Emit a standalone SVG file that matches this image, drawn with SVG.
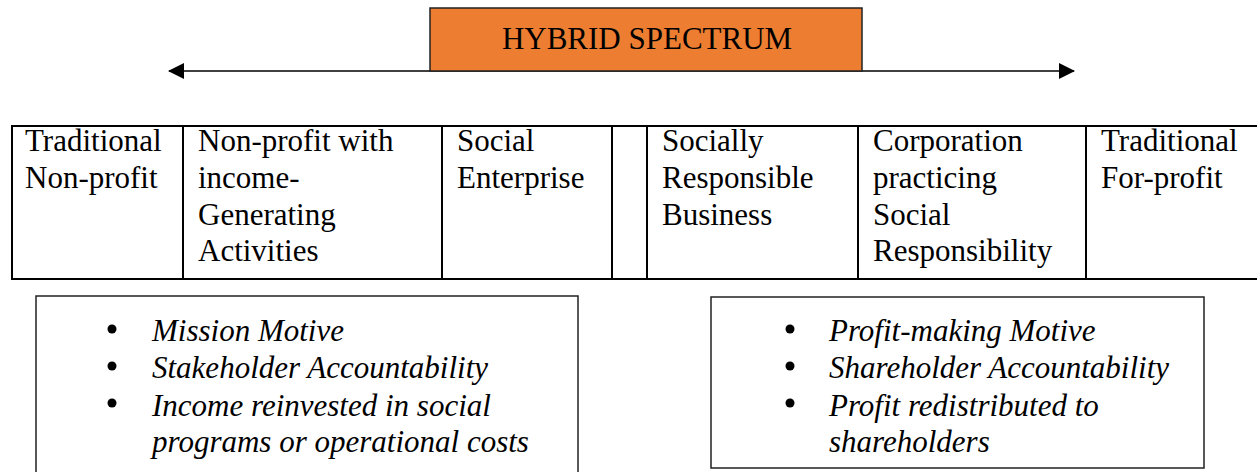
<svg xmlns="http://www.w3.org/2000/svg" width="1257" height="472" viewBox="0 0 1257 472">
<style>
  .t { font-family: "Liberation Serif", "Times New Roman", Times, "DejaVu Serif", serif; font-size: 31px; fill: #000; }
  .i { font-family: "Liberation Serif", "Times New Roman", Times, "DejaVu Serif", serif; font-size: 31px; font-style: italic; fill: #000; }
  .cell { fill: none; stroke: #000; stroke-width: 2; }
  .box { fill: #fff; stroke: #222; stroke-width: 1.5; }
  .conn { stroke: #000; stroke-width: 1.5; fill: none; }
</style>
<defs>
  <marker id="ah" viewBox="0 0 16 16" refX="15" refY="8" markerWidth="16" markerHeight="16" markerUnits="userSpaceOnUse" orient="auto-start-reverse">
    <path d="M0,0 L16,8 L0,16 Z" fill="#000"/>
  </marker>
</defs>
<rect width="1257" height="472" fill="#fff"/>

<g id="connectors">
  <line class="conn" x1="169" y1="71" x2="1074" y2="71" marker-start="url(#ah)" marker-end="url(#ah)"/>
</g>

<g id="hybrid-spectrum">
  <rect x="430" y="8" width="432" height="63" fill="#ED7D31" stroke="#222" stroke-width="1.5"/>
  <text class="t" x="647" y="49" text-anchor="middle">HYBRID SPECTRUM</text>
</g>

<g id="spectrum-table">
  <path class="cell" d="M1260,126 H12 V279 H1260 M183,126 V279 M442,126 V279 M612,126 V279 M647,126 V279 M858,126 V279 M1086,126 V279"/>
  <g id="col-traditional-nonprofit">
    <text class="t" x="25" y="151">Traditional</text>
    <text class="t" x="25" y="188">Non-profit</text>
  </g>
  <g id="col-nonprofit-income">
    <text class="t" x="198" y="151">Non-profit with</text>
    <text class="t" x="198" y="188">income-</text>
    <text class="t" x="198" y="225">Generating</text>
    <text class="t" x="198" y="261">Activities</text>
  </g>
  <g id="col-social-enterprise">
    <text class="t" x="457" y="151">Social</text>
    <text class="t" x="457" y="188">Enterprise</text>
  </g>
  <g id="col-socially-responsible">
    <text class="t" x="662" y="151">Socially</text>
    <text class="t" x="662" y="188">Responsible</text>
    <text class="t" x="662" y="225">Business</text>
  </g>
  <g id="col-corporation">
    <text class="t" x="873" y="151">Corporation</text>
    <text class="t" x="873" y="188">practicing</text>
    <text class="t" x="873" y="225">Social</text>
    <text class="t" x="873" y="261">Responsibility</text>
  </g>
  <g id="col-traditional-forprofit">
    <text class="t" x="1101" y="151">Traditional</text>
    <text class="t" x="1101" y="188">For-profit</text>
  </g>
</g>

<g id="nonprofit-traits">
  <rect class="box" x="36" y="296" width="542" height="190"/>
  <circle cx="112" cy="329" r="4.5" fill="#000"/>
  <circle cx="112" cy="366" r="4.5" fill="#000"/>
  <circle cx="112" cy="403" r="4.5" fill="#000"/>
  <text class="i" x="152" y="341">Mission Motive</text>
  <text class="i" x="152" y="378">Stakeholder Accountability</text>
  <text class="i" x="152" y="416">Income reinvested in social</text>
  <text class="i" x="152" y="452">programs or operational costs</text>
</g>

<g id="forprofit-traits">
  <rect class="box" x="711" y="297" width="493" height="171"/>
  <circle cx="790" cy="329" r="4.5" fill="#000"/>
  <circle cx="790" cy="366" r="4.5" fill="#000"/>
  <circle cx="790" cy="403" r="4.5" fill="#000"/>
  <text class="i" x="829" y="341">Profit-making Motive</text>
  <text class="i" x="829" y="378">Shareholder Accountability</text>
  <text class="i" x="829" y="416">Profit redistributed to</text>
  <text class="i" x="829" y="452">shareholders</text>
</g>
</svg>
